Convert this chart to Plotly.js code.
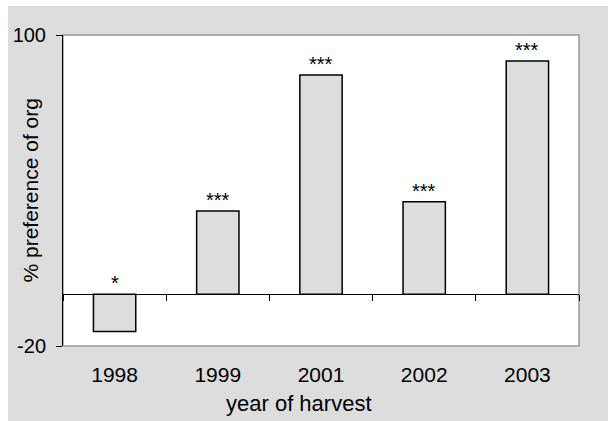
<!DOCTYPE html>
<html>
<head>
<meta charset="utf-8">
<script src="https://cdn.plot.ly/plotly-3.0.1.min.js"></script>
<style>
  html, body { margin: 0; padding: 0; background: #ffffff; }
  #bg { position: absolute; left: 8px; top: 6px; width: 600px; height: 415px; background: #dddddd; }
  #chart { position: absolute; left: 0; top: 0; width: 608px; height: 421px; }
</style>
</head>
<body>
<div id="bg"></div>
<div id="chart"></div>
<script>
const years = ['1998', '1999', '2001', '2002', '2003'];
const preference = [-14.4, 32.1, 84.6, 35.7, 90.0];
const significance = ['*', '***', '***', '***', '***'];
const yTicks = [-20, 100];
const xTitle = 'year of harvest';
const yTitle = '% preference of org';

const bars = {
  type: 'bar',
  x: years,
  y: preference,
  marker: { color: '#dddddd', line: { color: '#000000', width: 1.5 } },
  hoverinfo: 'x+y',
  showlegend: false
};
// invisible companion trace so the zero-line axis knows the categories
const zeroAxisTrace = {
  type: 'scatter',
  mode: 'none',
  x: years,
  y: preference,
  xaxis: 'x2',
  yaxis: 'y',
  hoverinfo: 'skip',
  showlegend: false
};

const fam = 'Arial, "Liberation Sans", sans-serif';

const annotations = years.map((yr, i) => ({
  x: i,
  y: Math.max(preference[i], 0),
  xref: 'x',
  yref: 'y',
  text: significance[i],
  showarrow: false,
  yanchor: 'bottom',
  yshift: -2,
  font: { family: fam, color: '#000000', size: 20 }
}));
annotations.push({
  xref: 'paper', yref: 'paper', x: 0, y: 0.5,
  xanchor: 'center', yanchor: 'middle', xshift: -33,
  textangle: -90, showarrow: false,
  text: yTitle,
  font: { family: fam, color: '#000000', size: 21 }
});
annotations.push({
  xref: 'paper', yref: 'paper', x: 0.5, y: 0,
  xanchor: 'center', yanchor: 'middle', xshift: -22, yshift: -57,
  showarrow: false,
  text: xTitle,
  font: { family: fam, color: '#000000', size: 22 }
});

const layout = {
  width: 608,
  height: 421,
  margin: { l: 63, r: 29, t: 35, b: 75, pad: 0 },
  paper_bgcolor: 'rgba(0,0,0,0)',
  plot_bgcolor: '#ffffff',
  font: { family: fam, color: '#000000' },
  bargap: 0.59,
  xaxis: {
    type: 'category',
    categoryorder: 'array',
    categoryarray: years,
    range: [-0.5, 4.5],
    showline: false,
    ticks: '',
    showgrid: false,
    zeroline: false,
    tickfont: { family: fam, color: '#000000', size: 21 },
    ticklabelstandoff: 14
  },
  xaxis2: {
    type: 'category',
    categoryorder: 'array',
    categoryarray: years,
    range: [-0.5, 4.5],
    overlaying: 'x',
    anchor: 'free',
    position: 20 / 120,
    side: 'bottom',
    showticklabels: false,
    ticks: 'outside',
    tickson: 'boundaries',
    ticklen: 6,
    tickwidth: 1,
    tickcolor: '#000000',
    showline: false,
    showgrid: false,
    zeroline: false
  },
  yaxis: {
    range: [-20, 100],
    tickmode: 'array',
    tickvals: yTicks,
    ticktext: yTicks.map(String),
    ticks: 'outside',
    ticklen: 6,
    tickwidth: 1,
    tickcolor: '#000000',
    ticklabelstandoff: 6,
    showline: true,
    linecolor: '#000000',
    linewidth: 1,
    showgrid: false,
    zeroline: true,
    zerolinecolor: '#000000',
    zerolinewidth: 1.2,
    tickfont: { family: fam, color: '#000000', size: 20 }
  },
  shapes: [{
    type: 'rect', xref: 'paper', yref: 'paper', x0: 0, x1: 1, y0: 0, y1: 1,
    line: { color: '#999999', width: 1.5 }, layer: 'below'
  }],
  annotations: annotations,
  showlegend: false
};

Plotly.newPlot('chart', [bars, zeroAxisTrace], layout, { displayModeBar: false, staticPlot: true });
</script>
</body>
</html>
